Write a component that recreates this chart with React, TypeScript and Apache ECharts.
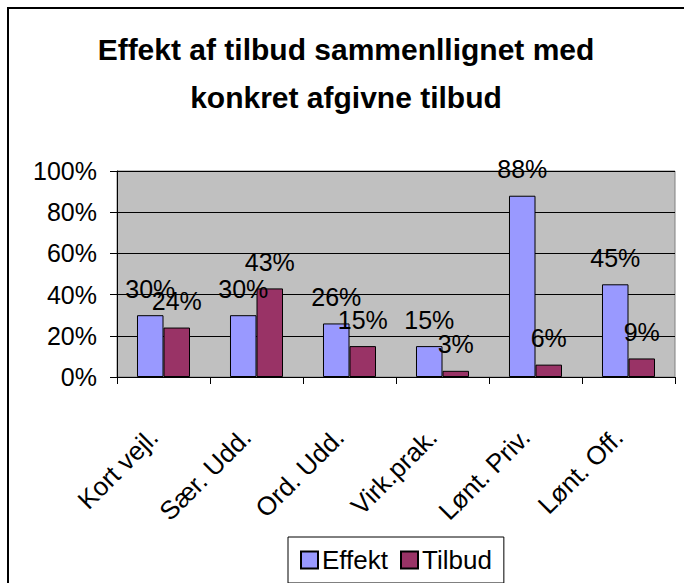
import React, { useEffect, useRef } from "react";
import * as echarts from "echarts";

const categories = ["Kort vejl.", "Sær. Udd.", "Ord. Udd.", "Virk.prak.", "Lønt. Priv.", "Lønt. Off."];
const effekt = [30, 30, 26, 15, 88, 45];
const tilbud = [24, 43, 15, 3, 6, 9];
const seriesNames = ["Effekt", "Tilbud"];
const titleText = "Effekt af tilbud sammenllignet med\nkonkret afgivne tilbud";

const FONT = "'Liberation Sans', Arial, sans-serif";

export default function App() {
  const ref = useRef<HTMLDivElement>(null);
  useEffect(() => {
    if (!ref.current) return;
    const chart = echarts.init(ref.current, undefined, { renderer: "svg" });
    const labelStyle = {
      show: true,
      position: "top" as const,
      distance: 14,
      formatter: "{c}%",
      color: "#000",
      fontSize: 25,
      fontFamily: FONT,
    };
    chart.setOption({
      animation: false,
      backgroundColor: "#ffffff",
      graphic: [
        {
          type: "rect",
          shape: { x: 8, y: 8, width: 720, height: 620 },
          style: { fill: "none", stroke: "#000", lineWidth: 2 },
          silent: true,
          z: 100,
        },
      ],
      title: {
        text: titleText,
        left: 341,
        top: 20,
        textAlign: "center",
        textStyle: {
          fontFamily: FONT,
          fontWeight: "bold",
          fontSize: 30,
          lineHeight: 48,
          color: "#000",
        },
      },
      legend: {
        data: seriesNames,
        left: 288,
        top: 537,
        padding: [10, 12, 10, 12],
        itemWidth: 17,
        itemHeight: 17,
        itemGap: 12,
        borderColor: "#000",
        borderWidth: 1,
        icon: "rect",
        textStyle: { fontFamily: FONT, fontSize: 26, color: "#000", padding: [0, 0, 0, -1] },
      },
      grid: {
        left: 117,
        right: 9,
        top: 171,
        bottom: 206,
        show: true,
        backgroundColor: "#C0C0C0",
        borderColor: "#808080",
        borderWidth: 1,
        containLabel: false,
      },
      xAxis: {
        type: "category",
        data: categories,
        axisLine: { show: true, lineStyle: { color: "#000", width: 1 } },
        axisTick: { show: true, length: 7, alignWithLabel: false, lineStyle: { color: "#000" } },
        axisLabel: {
          rotate: 45,
          margin: 46,
          interval: 0,
          fontFamily: FONT,
          fontSize: 26,
          color: "#000",
          padding: [0, 14, 0, 0],
        },
      },
      yAxis: {
        type: "value",
        min: 0,
        max: 100,
        interval: 20,
        axisLine: { show: true, lineStyle: { color: "#000", width: 1 } },
        axisTick: { show: true, length: 7, lineStyle: { color: "#000" } },
        axisLabel: {
          formatter: "{value}%",
          margin: 20,
          fontFamily: FONT,
          fontSize: 25,
          color: "#000",
        },
        splitLine: { show: true, lineStyle: { color: "#000", width: 1 } },
      },
      series: [
        {
          name: seriesNames[0],
          type: "bar",
          data: effekt,
          barGap: "0%",
          barCategoryGap: "43%",
          itemStyle: { color: "#9999FF", borderColor: "#000", borderWidth: 1 },
          label: labelStyle,
        },
        {
          name: seriesNames[1],
          type: "bar",
          data: tilbud,
          barGap: "0%",
          barCategoryGap: "43%",
          itemStyle: { color: "#993366", borderColor: "#000", borderWidth: 1 },
          label: labelStyle,
        },
      ],
    });
    return () => chart.dispose();
  }, []);
  return (
    <div
      ref={ref}
      style={{ position: "fixed", left: 0, top: 0, width: 684, height: 583 }}
    />
  );
}
